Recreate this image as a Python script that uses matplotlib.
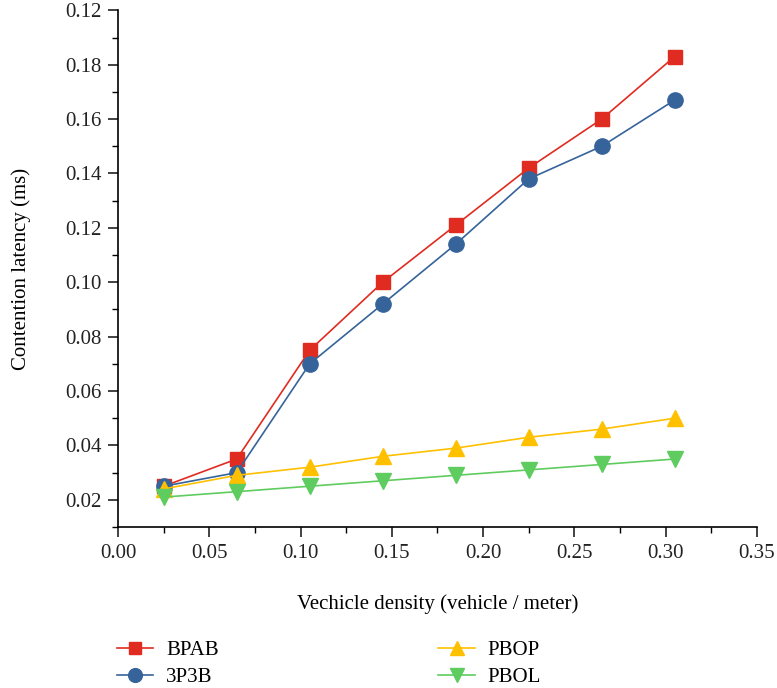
import matplotlib.pyplot as plt
from matplotlib.ticker import MultipleLocator, FixedLocator

# data
density = [0.025, 0.065, 0.105, 0.145, 0.185, 0.225, 0.265, 0.305]
bpab = [0.025, 0.035, 0.075, 0.100, 0.121, 0.142, 0.160, 0.183]
p3b = [0.025, 0.030, 0.070, 0.092, 0.114, 0.138, 0.150, 0.167]
pbop = [0.024, 0.029, 0.032, 0.036, 0.039, 0.043, 0.046, 0.050]
pbol = [0.021, 0.023, 0.025, 0.027, 0.029, 0.031, 0.033, 0.035]

y_ticks = [0.02, 0.04, 0.06, 0.08, 0.10, 0.12, 0.14, 0.16, 0.18, 0.20]
y_tick_labels = ["0.02", "0.04", "0.06", "0.08", "0.10", "0.12", "0.14", "0.16", "0.18", "0.12"]
x_ticks = [0.00, 0.05, 0.10, 0.15, 0.20, 0.25, 0.30, 0.35]

plt.rcParams["font.family"] = ["Liberation Serif", "DejaVu Serif"]

fig = plt.figure(figsize=(7.77, 6.88), dpi=100)
ax = fig.add_axes([0.152, 0.234, 0.822, 0.751])

ax.plot(density, bpab, color="#E02B20", marker="s", markersize=10, linewidth=1.2, label="BPAB")
ax.plot(density, p3b, color="#36649A", marker="o", markersize=11, linewidth=1.2, label="3P3B")
ax.plot(density, pbop, color="#FFC000", marker="^", markersize=11, linewidth=1.2, label="PBOP")
ax.plot(density, pbol, color="#5FCC5F", marker="v", markersize=11, linewidth=1.2, label="PBOL")

ax.set_xlim(0.0, 0.35)
ax.set_ylim(0.01, 0.20)
ax.xaxis.set_major_locator(FixedLocator(x_ticks))
ax.xaxis.set_minor_locator(MultipleLocator(0.025))
ax.set_xticklabels([f"{v:.2f}" for v in x_ticks])
ax.yaxis.set_major_locator(FixedLocator(y_ticks))
ax.yaxis.set_minor_locator(MultipleLocator(0.01))
ax.set_yticklabels(y_tick_labels)

ax.spines["top"].set_visible(False)
ax.spines["right"].set_visible(False)
ax.spines["left"].set_linewidth(1.2)
ax.spines["bottom"].set_linewidth(1.2)
ax.tick_params(which="major", direction="out", length=7, width=1.2, labelsize=15, pad=5, colors="#222222")
ax.tick_params(which="minor", direction="out", length=4, width=1.0)

ax.set_xlabel("Vechicle density (vehicle / meter)", fontsize=15)
ax.set_ylabel("Contention latency (ms)", fontsize=15)
ax.xaxis.set_label_coords(0.5, -0.13)
ax.yaxis.set_label_coords(-0.137, 0.5)

fig.legend(loc="upper left", bbox_to_anchor=(0.1506, 0.069), ncol=2, frameon=False,
           fontsize=15, handlelength=1.75, handletextpad=0.6, columnspacing=10.55,
           labelspacing=0.35, borderpad=0, borderaxespad=0, markerscale=0.9)

fig.savefig("out.png", dpi=100)
plt.close(fig)
